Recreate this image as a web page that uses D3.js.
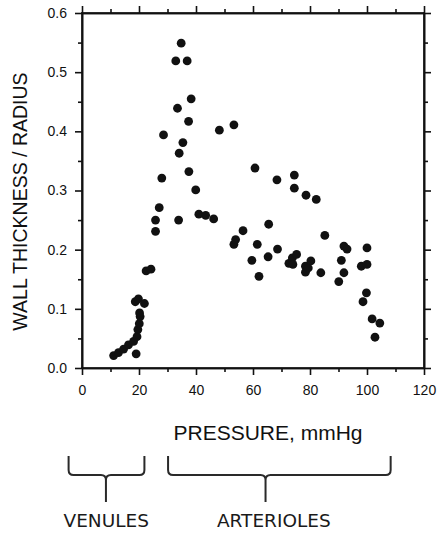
<!DOCTYPE html>
<html>
<head>
<meta charset="utf-8">
<script src="https://cdn.jsdelivr.net/npm/d3@7/dist/d3.min.js"></script>
<style>
  html, body { margin: 0; padding: 0; background: #fff; }
  svg { display: block; }
</style>
</head>
<body>
<svg id="chart" width="439" height="534"></svg>
<script>
// ---- data (pressure mmHg, wall thickness / radius) ----
const pressure = [
  11.1, 12.8, 14.6, 16.3, 18.1, 19.0, 19.3, 19.6, 20.1, 20.4, 20.2, 18.7, 19.8, 21.9, 22.5, 24.2,
  25.8, 25.8, 27.1, 28.0, 28.6, 32.9, 33.5, 33.9, 34.1, 34.8, 35.4, 36.9, 37.4, 37.5, 38.3, 39.9,
  41.0, 43.4, 46.2, 48.2, 53.3, 53.3, 53.9, 56.5, 59.6, 60.7, 61.5, 62.1, 65.3, 65.5, 68.4, 68.6,
  72.6, 73.8, 74.0, 74.5, 74.5, 75.3, 78.4, 78.4, 78.6, 79.4, 80.3, 82.2, 83.8, 85.2, 90.1, 91.0,
  91.9, 91.9, 93.0, 98.0, 98.6, 99.8, 100.0, 100.0, 101.8, 102.8, 104.5
];
const ratio = [
  0.021, 0.026, 0.032, 0.039, 0.045, 0.024, 0.053, 0.065, 0.075, 0.087, 0.093, 0.112, 0.117, 0.109, 0.164, 0.167,
  0.250, 0.231, 0.271, 0.321, 0.394, 0.519, 0.439, 0.250, 0.363, 0.549, 0.381, 0.519, 0.417, 0.332, 0.455, 0.301,
  0.260, 0.258, 0.252, 0.402, 0.411, 0.209, 0.217, 0.232, 0.182, 0.338, 0.209, 0.155, 0.188, 0.243, 0.318, 0.201,
  0.177, 0.186, 0.175, 0.326, 0.304, 0.192, 0.172, 0.162, 0.292, 0.169, 0.181, 0.285, 0.161, 0.224, 0.146, 0.182,
  0.206, 0.161, 0.201, 0.172, 0.112, 0.127, 0.203, 0.175, 0.083, 0.052, 0.076
];
const xTicks = [0, 20, 40, 60, 80, 100, 120];
const xMinorTicks = [10, 30, 50, 70, 90, 110];
const yTicks = [0.0, 0.1, 0.2, 0.3, 0.4, 0.5, 0.6];
const yMinorTicks = [0.05, 0.15, 0.25, 0.35, 0.45, 0.55];
const xTitle = "PRESSURE, mmHg";
const yTitle = "WALL THICKNESS / RADIUS";
// annotation groups in mmHg units
const groupNames = ["VENULES", "ARTERIOLES"];
const groupStart = [-4.7, 30.2];
const groupStem = [8.4, 64.4];
const groupEnd = [21.9, 108.3];
const groupLabelAt = [8.5, 67.3];

// ---- layout ----
const svg = d3.select("#chart");
const pL = 82, pR = 424, pT = 13, pB = 368;
const x = d3.scaleLinear().domain([0, 120]).range([pL, pR]);
const y = d3.scaleLinear().domain([0, 0.6]).range([pB, pT]);
const ink = "#111";
const font = "'Liberation Sans', Arial, Helvetica, sans-serif";

// plot frame as thin filled bars (from the scales)
const fw = 1.6;
const frame = svg.append("g").attr("fill", ink);
frame.append("rect").attr("x", x(0) - fw / 2).attr("y", y(0.6) - fw / 2).attr("width", x(120) - x(0) + fw).attr("height", fw);
frame.append("rect").attr("x", x(0) - fw / 2).attr("y", y(0) - fw / 2).attr("width", x(120) - x(0) + fw).attr("height", fw);
frame.append("rect").attr("x", x(0) - fw / 2).attr("y", y(0.6) - fw / 2).attr("width", fw).attr("height", y(0) - y(0.6) + fw);
frame.append("rect").attr("x", x(120) - fw / 2).attr("y", y(0.6) - fw / 2).attr("width", fw).attr("height", y(0) - y(0.6) + fw);

// points
svg.append("g").selectAll("circle")
  .data(pressure.map((p, i) => [p, ratio[i]]))
  .join("circle")
  .attr("cx", d => x(d[0]))
  .attr("cy", d => y(d[1]))
  .attr("r", 4.4)
  .attr("fill", ink);

// titles
svg.append("text")
  .attr("x", (pL + pR) / 2 + 15).attr("y", 440)
  .attr("text-anchor", "middle")
  .attr("font-family", font).attr("font-size", 21).attr("fill", ink)
  .text(xTitle);
svg.append("text")
  .attr("transform", `translate(27,${(pT + pB) / 2 + 11}) rotate(-90)`)
  .attr("text-anchor", "middle")
  .attr("font-family", font).attr("font-size", 19.5).attr("fill", ink)
  .text(yTitle);

// brackets
const bTop = 456, bMid = 475, bBot = 502, rr = 5;
const brackets = svg.append("g");
groupNames.forEach((name, i) => {
  const a = x(groupStart[i]), s = x(groupStem[i]), b = x(groupEnd[i]);
  const p = d3.path();
  p.moveTo(a, bTop);
  p.lineTo(a, bMid - rr);
  p.quadraticCurveTo(a, bMid, a + rr, bMid);
  p.lineTo(s - rr, bMid);
  p.quadraticCurveTo(s, bMid, s, bMid + rr);
  p.lineTo(s, bBot);
  p.moveTo(s, bMid + rr);
  p.quadraticCurveTo(s, bMid, s + rr, bMid);
  p.lineTo(b - rr, bMid);
  p.quadraticCurveTo(b, bMid, b, bMid - rr);
  p.lineTo(b, bTop);
  brackets.append("path").attr("d", p.toString())
    .attr("fill", "none").attr("stroke", "#2a2a2a").attr("stroke-width", 2);
  svg.append("text")
    .attr("x", x(groupLabelAt[i])).attr("y", 527)
    .attr("text-anchor", "middle")
    .attr("font-family", "'DejaVu Sans', Verdana, sans-serif").attr("font-size", 18.5)
    .attr("fill", "#1a1a1a")
    .text(name);
});

// axes (ticks all outward)
function styleAxis(g) {
  g.selectAll("path").attr("stroke", ink).attr("stroke-width", 1.6);
  g.selectAll("line").attr("stroke", ink).attr("stroke-width", 1.6);
  g.selectAll("text").attr("fill", ink).attr("font-family", font).attr("font-size", 14);
}
const axes = svg.append("g").attr("class", "axes");
function addAxis(axis, tx, ty) {
  const g = axes.append("g").attr("transform", `translate(${tx},${ty})`).call(axis);
  styleAxis(g);
  return g;
}
addAxis(d3.axisBottom(x).tickValues(xTicks).tickSize(7).tickSizeOuter(0).tickPadding(10).tickFormat(d3.format("d")), 0, pB);
addAxis(d3.axisBottom(x).tickValues(xMinorTicks).tickSize(4).tickSizeOuter(0).tickFormat(""), 0, pB);
addAxis(d3.axisTop(x).tickValues(xTicks).tickSize(7).tickSizeOuter(0).tickFormat(""), 0, pT);
addAxis(d3.axisTop(x).tickValues(xMinorTicks).tickSize(4).tickSizeOuter(0).tickFormat(""), 0, pT);
addAxis(d3.axisLeft(y).tickValues(yTicks).tickSize(7).tickSizeOuter(0).tickPadding(8).tickFormat(d3.format(".1f")), pL, 0);
addAxis(d3.axisLeft(y).tickValues(yMinorTicks).tickSize(4).tickSizeOuter(0).tickFormat(""), pL, 0);
addAxis(d3.axisRight(y).tickValues(yTicks).tickSize(7).tickSizeOuter(0).tickFormat(""), pR, 0);
addAxis(d3.axisRight(y).tickValues(yMinorTicks).tickSize(4).tickSizeOuter(0).tickFormat(""), pR, 0);
</script>
</body>
</html>
